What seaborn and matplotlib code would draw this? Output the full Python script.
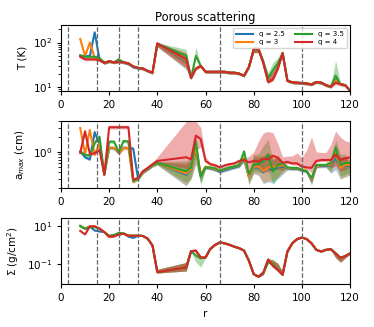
import pandas as pd
import matplotlib
matplotlib.use("Agg")
import matplotlib.pyplot as plt
import seaborn as sns

# radial grid (no models between 40 and 52)
r = [8, 10, 12, 14, 16, 18, 20, 22, 24, 26, 28, 30, 32, 34, 36, 38, 40,
     52, 54, 56, 58, 60, 62, 64, 66, 68, 70, 72, 74, 76, 78, 80, 82, 84, 86,
     88, 90, 92, 94, 96, 98, 100, 102, 104, 106, 108, 110, 112, 114, 116, 118, 120]
q_labels = ["q = 2.5", "q = 3", "q = 3.5", "q = 4"]
gaps = [3, 15, 24, 32, 66, 100]

# --- temperature (q = 4 curve, others differ only where listed)
T_q4 = [48, 42, 42, 42, 40, 35, 38, 36, 37, 36, 34, 29, 27, 26, 23, 21, 95,
        42, 16, 26, 30, 22, 22, 22, 22, 22, 21, 21, 20, 18, 28, 70, 70, 35, 13,
        15, 26, 58, 13.8, 12.8, 12.5, 12.3, 12, 11.5, 13, 12.5, 11, 10.2, 12.5, 11.6, 11, 8.3]
T_q25 = {8: 50, 10: 50, 12: 50, 14: 170, 16: 42, 28: 33, 30: 28, 52: 38, 114: 14.5}
T_q3 = {8: 120, 10: 50, 12: 100, 14: 45, 16: 42, 52: 40, 114: 14}
T_q35 = {8: 52, 10: 48, 12: 48, 14: 48, 16: 45, 24: 42, 52: 50, 56: 50, 58: 30,
         86: 16, 88: 24, 90: 34, 114: 18}
T_lo = {40: 0.85, 52: 0.65, 80: 0.85, 82: 0.85, 84: 0.85, 114: 0.9}
T_hi = {40: 1.05, 52: 1.4, 54: 1.1, 80: 1.15, 82: 1.15, 84: 1.2, 86: 1.3, 88: 1.5, 90: 1.3}
T_hi_q35 = {56: 1.6, 114: 2.2}

# --- maximum grain size
a_q25 = [1.03, 0.79, 0.72, 2.45, 1.4, 0.36, 1.2, 1.2, 0.95, 1.22, 1.2, 1.17, 0.3, 0.4, 0.46, 0.54, 0.6,
         0.36, 0.45, 1.15, 0.35, 0.5, 0.48, 0.45, 0.41, 0.44, 0.47, 0.5, 0.53, 0.7, 0.33, 0.5, 0.5, 0.4, 0.48,
         0.45, 0.5, 0.52, 0.48, 0.47, 0.47, 0.44, 0.42, 0.28, 0.52, 0.53, 0.53, 0.55, 0.75, 0.5, 0.54, 0.54]
a_q3 = [2.95, 0.91, 2.7, 0.88, 1.5, 0.36, 1.22, 1.22, 0.95, 1.2, 1.2, 0.26, 0.3, 0.4, 0.47, 0.55, 0.6,
        0.38, 0.46, 1.2, 0.37, 0.52, 0.49, 0.46, 0.43, 0.46, 0.49, 0.52, 0.55, 0.77, 0.33, 0.52, 0.52, 0.42, 0.49,
        0.52, 0.52, 0.56, 0.49, 0.48, 0.48, 0.45, 0.43, 0.29, 0.53, 0.55, 0.55, 0.57, 0.96, 0.49, 0.56, 0.56]
a_q35 = [1.03, 0.88, 0.86, 1.5, 2.0, 0.36, 1.6, 1.6, 1.0, 1.65, 1.6, 0.27, 0.3, 0.41, 0.48, 0.56, 0.61,
         0.42, 0.5, 1.6, 0.33, 0.5, 0.5, 0.48, 0.43, 0.47, 0.5, 0.52, 0.56, 1.03, 0.37, 0.56, 0.58, 0.66, 0.89,
         0.42, 0.55, 0.61, 0.5, 0.49, 0.49, 0.45, 0.42, 0.31, 0.56, 0.56, 0.56, 0.61, 1.24, 0.56, 0.61, 0.61]
a_q4 = [0.96, 2.55, 0.91, 0.95, 1.1, 0.36, 3.05, 3.05, 3.05, 3.05, 3.05, 0.29, 0.31, 0.42, 0.49, 0.58, 0.67,
        0.79, 0.72, 2.1, 1.8, 0.67, 0.58, 0.55, 0.5, 0.55, 0.58, 0.6, 0.67, 0.7, 0.63, 0.67, 0.65, 0.74, 0.72,
        0.85, 0.77, 0.62, 0.64, 0.6, 0.6, 0.52, 0.5, 0.49, 0.67, 0.7, 0.7, 0.7, 0.89, 0.7, 0.75, 0.79]
a_lo = {52: 0.6, 54: 0.65, 56: 0.5, 58: 0.7, 78: 0.7, 80: 0.75, 82: 0.7, 84: 0.6, 86: 0.55,
        88: 0.55, 90: 0.6, 92: 0.7, 104: 0.8, 112: 0.7, 114: 0.6, 116: 0.6, 118: 0.6, 120: 0.65}
a_hi = {52: 1.6, 54: 1.5, 56: 1.3, 80: 1.6, 82: 1.6, 84: 2.0, 86: 2.0, 88: 1.6, 90: 1.6,
        114: 1.4, 116: 1.6, 118: 1.5}
a_hi_q4 = {10: 1.1, 20: 1.1, 22: 1.1, 24: 1.1, 26: 1.1, 28: 1.1, 40: 1.2, 52: 5.0, 54: 5.5,
           56: 1.9, 58: 1.7, 60: 1.2, 78: 1.3, 80: 1.5, 82: 2.5, 84: 3.2, 86: 3.5, 88: 2.8,
           90: 1.9, 92: 1.3, 94: 1.3, 96: 1.4, 98: 1.6, 100: 1.5, 102: 2.2, 104: 4.0, 106: 1.5,
           108: 1.4, 110: 1.4, 112: 2.0, 114: 2.9, 116: 2.8, 118: 2.2, 120: 2.0}

# --- surface density
S_q4 = [5.3, 3.5, 9.2, 9.2, 7, 4.6, 2.7, 2.8, 3.5, 3.8, 3.0, 3.0, 3.0, 2.9, 2.1, 0.92, 0.038,
        0.067, 0.47, 0.5, 0.22, 0.22, 0.62, 1.0, 1.35, 1.2, 1.0, 0.8, 0.67, 0.5, 0.15, 0.03, 0.022, 0.035, 0.17,
        0.08, 0.05, 0.028, 0.45, 1.2, 2.0, 2.4, 2.0, 1.2, 0.55, 0.45, 0.55, 0.6, 0.36, 0.21, 0.26, 0.36]
S_q25 = {8: 9.6, 10: 6.9, 12: 9.0, 14: 5.6, 16: 5.0, 28: 2.7, 30: 2.3}
S_q3 = {8: 9.6, 10: 6.9, 20: 2.5}
S_q35 = {8: 9.6, 10: 6.9, 12: 8.5, 14: 8.5, 20: 3.0, 22: 3.3, 24: 4.2, 26: 4.0,
         56: 0.28, 58: 0.2, 86: 0.12, 88: 0.1}
S_lo = {40: 0.9, 52: 0.65, 84: 0.8, 114: 0.6, 116: 0.6, 118: 0.8}
S_hi = {40: 1.4, 52: 1.8, 84: 1.5, 86: 1.2, 88: 1.9, 90: 2.2, 92: 1.4}
S_lo_q35 = {56: 0.45, 58: 0.35}


def with_changes(base, changes):
    return [changes.get(x, v) for x, v in zip(r, base)]


def long_table(centers, lo, hi, hi_extra=None, lo_extra=None):
    hi_extra = hi_extra or {}
    lo_extra = lo_extra or {}
    rows = []
    for q, vals in zip(q_labels, centers):
        for x, v in zip(r, vals):
            l = lo_extra.get(q, {}).get(x, lo.get(x, 0.93))
            h = hi_extra.get(q, {}).get(x, hi.get(x, 1.07))
            for val in (v * l, v, v * h):
                rows.append({"r": x, "val": val, "q": q})
    return pd.DataFrame(rows)


df_T = long_table([with_changes(T_q4, T_q25), with_changes(T_q4, T_q3),
                   with_changes(T_q4, T_q35), T_q4], T_lo, T_hi,
                  hi_extra={"q = 3.5": T_hi_q35})
df_a = long_table([a_q25, a_q3, a_q35, a_q4], a_lo, a_hi,
                  hi_extra={"q = 4": a_hi_q4})
df_S = long_table([with_changes(S_q4, S_q25), with_changes(S_q4, S_q3),
                   with_changes(S_q4, S_q35), S_q4], S_lo, S_hi,
                  lo_extra={"q = 3.5": S_lo_q35})

palette = ["tab:blue", "tab:orange", "tab:green", "tab:red"]
plt.rcParams["font.size"] = 7.5

fig, axes = plt.subplots(3, 1, figsize=(3.74, 3.27), dpi=100)
fig.subplots_adjust(left=0.163, right=0.936, top=0.924, bottom=0.131, hspace=0.45)

panels = [(df_T, "T (K)", (8, 250)),
          (df_a, "a$_{max}$ (cm)", (0.2, 4)),
          (df_S, "Σ (g/cm$^2$)", (0.009, 26))]

for ax, (d, lab, lim) in zip(axes, panels):
    ax.set_yscale("log")
    sns.lineplot(data=d, x="r", y="val", hue="q", palette=palette, estimator="median",
                 errorbar=("pi", 100), lw=1.5, err_kws={"alpha": 0.38, "linewidth": 0},
                 legend=(ax is axes[0]), ax=ax)
    for g in gaps:
        ax.axvline(g, color="0.4", ls="--", lw=0.9)
    ax.set_xlim(0, 120)
    ax.set_ylim(*lim)
    ax.set_xticks([0, 20, 40, 60, 80, 100, 120])
    ax.set_ylabel(lab, fontsize=7.5)
    ax.set_xlabel("")
    ax.tick_params(labelsize=7.5, length=3)

axes[0].set_yticks([10, 100])
axes[1].set_yticks([1])
axes[2].set_yticks([0.1, 10])
axes[0].set_title("Porous scattering", fontsize=8.3, pad=3)
axes[0].legend(ncol=2, loc="upper right", fontsize=5, handlelength=2.5,
               columnspacing=1.5, borderpad=0.4, labelspacing=0.3)
axes[2].set_xlabel("r", fontsize=7.5)

fig.savefig("out.png", dpi=100)
